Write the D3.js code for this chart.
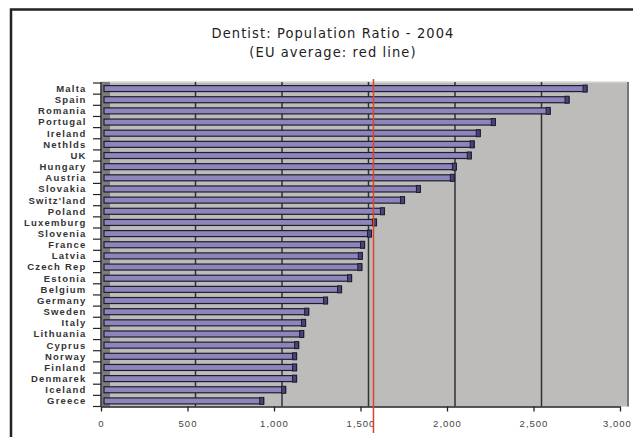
<!DOCTYPE html>
<html lang="en">
<head>
<meta charset="utf-8">
<title>Dentist: Population Ratio - 2004</title>
<script src="https://d3js.org/d3.v7.min.js"></script>
<style>
  body { margin: 0; background: #fff; }
  text { font-family: "Liberation Sans", Arial, sans-serif; }
</style>
</head>
<body>
<script>
// data (population per dentist)
const countries = ["Malta", "Spain", "Romania", "Portugal", "Ireland", "Nethlds", "UK",
  "Hungary", "Austria", "Slovakia", "Switz'land", "Poland", "Luxemburg", "Slovenia",
  "France", "Latvia", "Czech Rep", "Estonia", "Belgium", "Germany", "Sweden", "Italy",
  "Lithuania", "Cyprus", "Norway", "Finland", "Denmarek", "Iceland", "Greece"];
const ratios = [2792, 2688, 2579, 2262, 2175, 2140, 2123,
  2037, 2025, 1829, 1737, 1621, 1575, 1546,
  1506, 1493, 1490, 1431, 1373, 1292, 1183, 1165,
  1154, 1125, 1113, 1113, 1113, 1050, 923];
const euAverage = 1575;
const xTicks = [0, 500, 1000, 1500, 2000, 2500, 3000];
const titleLines = ["Dentist: Population Ratio - 2004", "(EU average: red line)"];

const w = 633, h = 437;
const depth = 8;      // 3d offset of the back wall
const barShift = 3;   // bars sit a little behind the front plane

const svg = d3.select("body").append("svg")
  .attr("width", w)
  .attr("height", h);

// outer frame (open at right and bottom)
svg.append("path")
  .attr("d", "M11,440V9.5H640")
  .attr("fill", "none")
  .attr("stroke", "#222")
  .attr("stroke-width", 2.5);

// title
svg.append("g").selectAll("text")
  .data(titleLines)
  .enter().append("text")
  .attr("x", 333)
  .attr("y", (d, i) => 38 + i * 19)
  .attr("text-anchor", "middle")
  .style("font-family", "'Liberation Sans Narrow', 'DejaVu Sans Condensed', sans-serif")
  .style("font-size", "14.5px")
  .style("letter-spacing", "1.1px")
  .attr("fill", "#222")
  .text(d => d);

// scales
const x = d3.scaleLinear().domain([0, 3000]).range([101, 620]);
const y = d3.scaleBand().domain(countries).range([83, 406.5]);

// plot background + walls
svg.append("rect")
  .attr("x", x(0))
  .attr("y", y.range()[0] - 1)
  .attr("width", x(3000) + depth - x(0))
  .attr("height", y.range()[1] - y.range()[0] + 1)
  .attr("fill", "#bdbcbb");
svg.append("line")
  .attr("x1", x(0)).attr("x2", x(3000) + depth)
  .attr("y1", y.range()[0] - 1).attr("y2", y.range()[0] - 1)
  .attr("stroke", "#d8d8d8").attr("stroke-width", 1.5);
svg.append("rect")
  .attr("x", x(0) + 1)
  .attr("y", y.range()[0] - 1)
  .attr("width", depth)
  .attr("height", y.range()[1] - y.range()[0] + 1)
  .attr("fill", "#7b7b7b");

// gridlines on the back wall
svg.append("g").selectAll("line")
  .data(xTicks.slice(1))
  .enter().append("line")
  .attr("x1", d => x(d) + depth)
  .attr("x2", d => x(d) + depth)
  .attr("y1", y.range()[0] - 1)
  .attr("y2", y.range()[1])
  .attr("stroke", d => d === 3000 ? "#777" : "#333")
  .attr("stroke-width", d => d === 3000 ? 2 : 1.5);

// bars
const bars = svg.append("g").selectAll("g")
  .data(countries)
  .enter().append("g");

bars.append("rect")
  .attr("x", x(0) + barShift)
  .attr("y", d => y(d) + y.bandwidth() / 2 - 3)
  .attr("width", (d, i) => x(ratios[i]) - x(0))
  .attr("height", 6)
  .attr("fill", "#8d86bd")
  .attr("stroke", "#1f1d2b")
  .attr("stroke-width", 1.2);

bars.append("rect")
  .attr("x", (d, i) => x(ratios[i]) + barShift - 4)
  .attr("y", d => y(d) + y.bandwidth() / 2 - 3.5)
  .attr("width", 4)
  .attr("height", 7)
  .attr("fill", "#48437a")
  .attr("stroke", "#1f1d2b")
  .attr("stroke-width", 1);

// x axis
const xAxis = d3.axisBottom(x)
  .tickValues(xTicks)
  .tickFormat(d3.format(","))
  .tickSizeInner(5)
  .tickSizeOuter(0)
  .tickPadding(9);

const gx = svg.append("g")
  .attr("transform", "translate(0," + y.range()[1] + ")")
  .call(xAxis);
gx.select(".domain").attr("stroke", "#222").attr("stroke-width", 1.5);
gx.selectAll(".tick line").attr("stroke", "#222").attr("stroke-width", 1.3);
gx.selectAll(".tick text")
  .style("font-size", "9.5px")
  .style("letter-spacing", "1px")
  .attr("dx", d => d === 3000 ? -3 : 0)
  .attr("fill", "#444");

// y axis: line, ticks between categories, labels
svg.append("line")
  .attr("x1", x(0)).attr("x2", x(0))
  .attr("y1", y.range()[0] - 1).attr("y2", y.range()[1])
  .attr("stroke", "#222").attr("stroke-width", 1.5);

svg.append("g").selectAll("line")
  .data(countries.map(c => y(c)).concat([y.range()[1]]))
  .enter().append("line")
  .attr("x1", x(0) - 8).attr("x2", x(0))
  .attr("y1", d => d).attr("y2", d => d)
  .attr("stroke", "#222").attr("stroke-width", 1.2);

svg.append("g").selectAll("text")
  .data(countries)
  .enter().append("text")
  .attr("x", 86.5)
  .attr("y", d => y(d) + y.bandwidth() / 2)
  .attr("dy", "0.36em")
  .attr("text-anchor", "end")
  .style("font-size", "9.5px")
  .style("font-weight", "bold")
  .style("letter-spacing", "1.2px")
  .attr("fill", "#333")
  .text(d => d);

// EU average marker
svg.append("line")
  .attr("x1", x(euAverage)).attr("x2", x(euAverage))
  .attr("y1", 79).attr("y2", 433)
  .attr("stroke", "#d9442a")
  .attr("stroke-width", 1.5);
</script>
</body>
</html>
